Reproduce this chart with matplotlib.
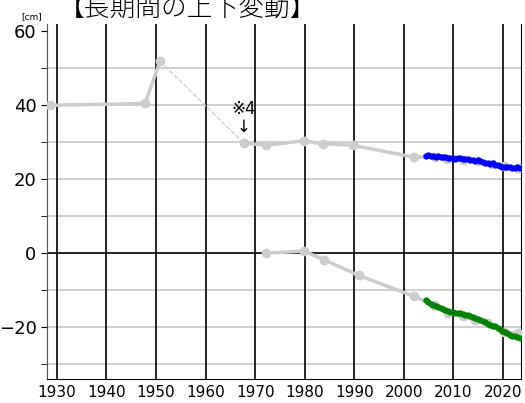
import matplotlib.pyplot as plt
from matplotlib.ticker import MultipleLocator

plt.rcParams['font.family'] = ['DejaVu Sans', 'Noto Sans CJK JP']

# upper benchmark (older survey)
old_x = [1928.6, 1947.8, 1950.8]
old_y = [40.0, 40.5, 51.9]
gap_x = [1950.8, 1967.7]
gap_y = [51.9, 29.8]
up_x = [1967.7, 1972.1, 1979.8, 1983.6, 1989.7, 2002.0, 2006.2, 2008.8, 2012.0, 2015.0, 2017.7, 2020.2, 2023.0]
up_y = [29.8, 29.2, 30.4, 29.6, 29.2, 26.0, 26.0, 25.4, 25.3, 24.9, 24.0, 23.6, 23.0]

# lower benchmark
low_x = [1972.1, 1979.8, 1983.8, 1990.9, 2002.0, 2006.0, 2008.9, 2011.9, 2014.3, 2017.0, 2020.3, 2023.0]
low_y = [0.0, 0.6, -1.7, -6.0, -11.6, -14.1, -16.1, -17.0, -18.1, -18.9, -21.3, -21.6]

# continuous GNSS series
gnss_x = [2004.4, 2004.9, 2005.4, 2005.9, 2006.4, 2006.9, 2007.4, 2007.9, 2008.4, 2008.9,
          2009.4, 2009.9, 2010.4, 2010.9, 2011.4, 2011.9, 2012.4, 2012.9, 2013.4, 2013.9,
          2014.4, 2014.9, 2015.4, 2015.9, 2016.4, 2016.9, 2017.4, 2017.9, 2018.4, 2018.9,
          2019.4, 2019.9, 2020.4, 2020.9, 2021.4, 2021.9, 2022.4, 2022.9, 2023.4]
blue_y = [26.3, 26.5, 26.4, 26.3, 26.1, 26.2, 26.0, 25.9, 26.0, 25.8,
          25.7, 25.8, 25.6, 25.7, 25.8, 25.5, 25.4, 25.5, 25.2, 25.3,
          25.0, 25.2, 24.9, 24.6, 24.5, 24.3, 24.2, 24.3, 23.9, 23.8,
          23.6, 23.4, 23.3, 23.2, 23.3, 23.1, 23.0, 23.2, 23.0]
green_y = [-12.7, -13.3, -13.8, -14.0, -14.3, -14.6, -14.9, -15.1, -15.4, -15.6,
           -15.8, -15.9, -16.1, -16.2, -16.2, -16.4, -16.6, -16.8, -16.9, -17.3,
           -17.5, -17.8, -18.1, -18.4, -18.6, -19.0, -19.3, -19.6, -19.8, -20.1,
           -20.5, -21.0, -21.4, -21.7, -22.0, -22.3, -22.5, -22.7, -23.0]

x_ticks = [1930, 1940, 1950, 1960, 1970, 1980, 1990, 2000, 2010, 2020]
y_ticks = [60, 40, 20, 0, -20]

fig = plt.figure(figsize=(5.25, 4.03), dpi=100)
ax = fig.add_axes([0.0895, 0.0596, 0.9025, 0.881])

gray = '#cccccc'
ax.plot(old_x, old_y, '-o', color=gray, lw=2.5, ms=6, zorder=3)
ax.plot(gap_x, gap_y, '--', color=gray, lw=0.9, zorder=3)
ax.plot(up_x, up_y, '-o', color=gray, lw=2.5, ms=6, zorder=3)
ax.plot(low_x, low_y, '-o', color=gray, lw=2.5, ms=6, zorder=3)
ax.plot(gnss_x, blue_y, '-o', color='blue', lw=2.5, ms=3.5, zorder=4)
ax.plot(gnss_x, green_y, '-o', color='green', lw=2.5, ms=3.5, zorder=4)

ax.set_xlim(1928.0, 2023.6)
ax.set_ylim(-34, 62)
ax.set_xticks(x_ticks)
ax.set_yticks(y_ticks)
ax.yaxis.set_minor_locator(MultipleLocator(10))
ax.tick_params(axis='x', labelsize=11, length=0, pad=4)
ax.tick_params(axis='y', labelsize=13, length=4)
ax.tick_params(axis='y', which='minor', length=4)

for v in [50, 40, 30, 20, 10, -10, -20, -30]:
    ax.axhline(v, color='#c8c8c8', lw=1.2, zorder=1)
ax.axhline(0, color='black', lw=1.2, zorder=2)
for v in x_ticks:
    ax.axvline(v, color='black', lw=1.2, zorder=2)

ax.spines['top'].set_visible(False)
ax.spines['left'].set_color('#555555')

ax.text(1967.7, 31.8, '※4\n↓', ha='center', va='bottom', fontsize=12,
        linespacing=1.0)
fig.text(0.112, 0.976, '【長期間の上下変動】', fontsize=18.5, ha='left', va='center',
         family=['Noto Sans CJK JP'], fontweight='light')
fig.text(0.040, 0.958, '[cm]', fontsize=6.5, ha='left', va='center')

fig.savefig('out.png', dpi=100)
